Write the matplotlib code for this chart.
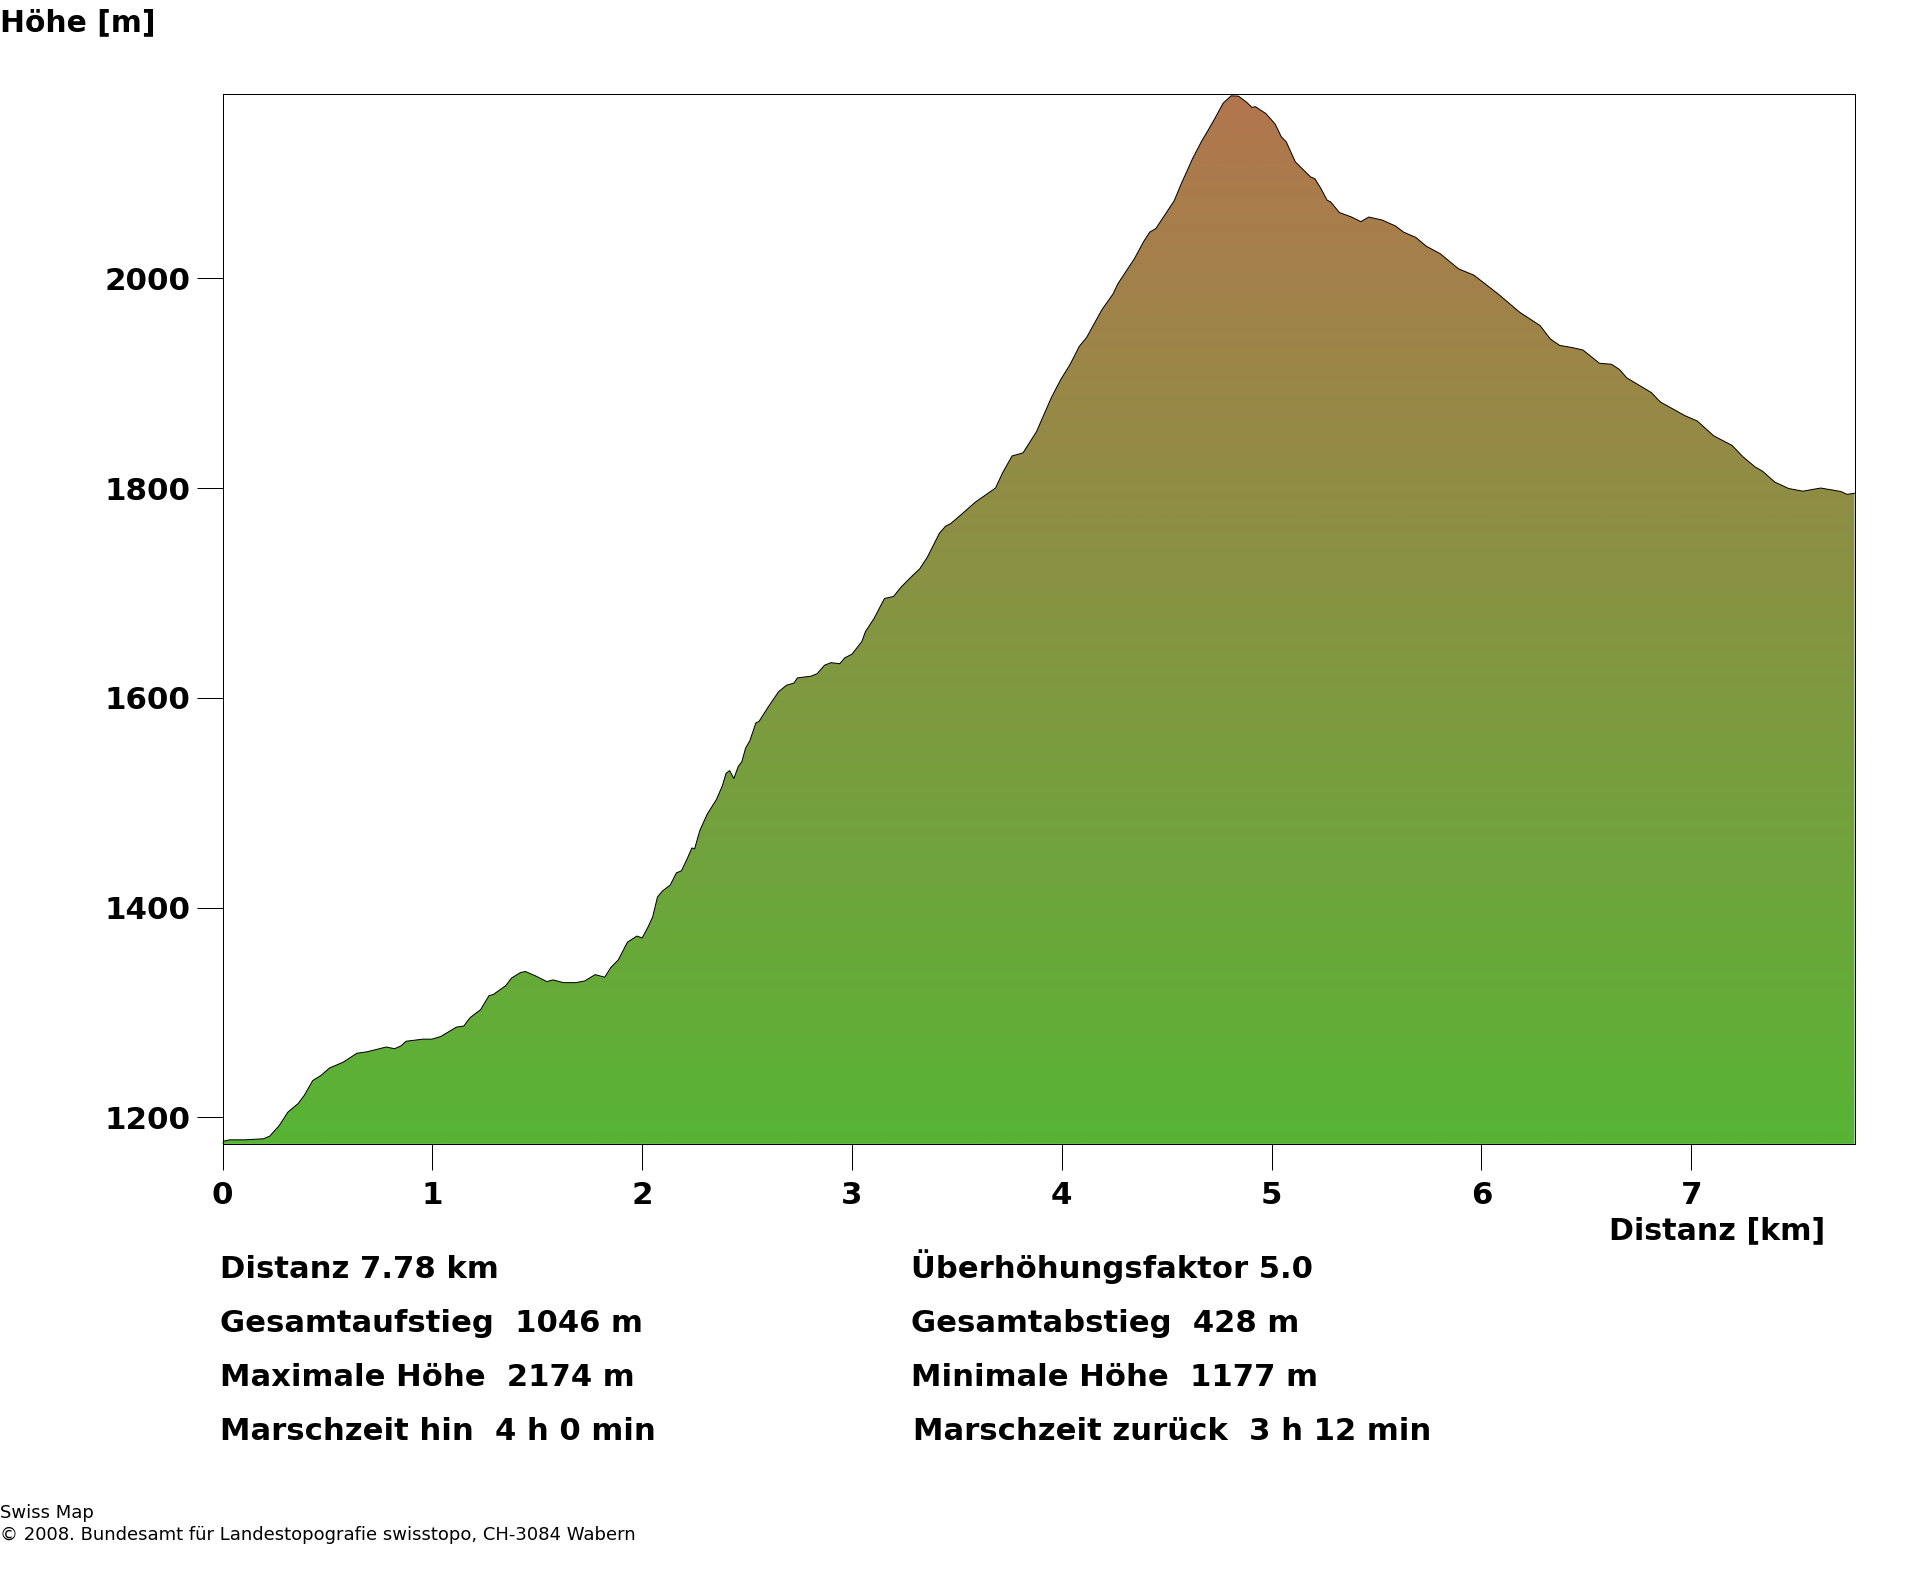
#!/usr/bin/env python3
"""Hoehenprofil: elevation along the route, filled with a green-to-brown ramp."""

import matplotlib

matplotlib.use("Agg")
import matplotlib.pyplot as plt
import numpy as np
from matplotlib.colors import LinearSegmentedColormap
from matplotlib.transforms import Bbox, TransformedBbox

WIDTH, HEIGHT = 1920, 1572

# (distance km, elevation m)
PROFILE = [
    (0.0, 1177), (0.035, 1178.5), (0.108, 1178.5), (0.195, 1179.5), (0.225, 1182), (0.27, 1192),
    (0.312, 1205), (0.36, 1213), (0.39, 1221), (0.43, 1235), (0.47, 1240), (0.51, 1247),
    (0.575, 1252.5), (0.64, 1261), (0.69, 1262.5), (0.78, 1267), (0.82, 1265.4), (0.85, 1268),
    (0.875, 1272.5), (0.955, 1274.5), (0.998, 1274.5), (1.04, 1277), (1.115, 1286), (1.15, 1287),
    (1.18, 1295), (1.23, 1302.6), (1.27, 1316), (1.29, 1317), (1.35, 1325.5), (1.377, 1332.7),
    (1.42, 1338), (1.444, 1339), (1.494, 1334.6), (1.546, 1329.4), (1.575, 1331), (1.625, 1328.4),
    (1.684, 1328.4), (1.726, 1330), (1.776, 1336), (1.822, 1333.6), (1.85, 1342.7), (1.886, 1350),
    (1.93, 1367), (1.975, 1372.8), (2.0, 1371), (2.027, 1381), (2.05, 1391), (2.073, 1410),
    (2.097, 1415.8), (2.134, 1421.5), (2.163, 1433), (2.187, 1435), (2.213, 1445.8), (2.237, 1456.8),
    (2.25, 1456), (2.275, 1473.5), (2.31, 1489), (2.354, 1503), (2.382, 1516), (2.40, 1528),
    (2.417, 1530.6), (2.437, 1523), (2.458, 1534.5), (2.475, 1539), (2.493, 1552), (2.513, 1559),
    (2.542, 1576), (2.557, 1577.5), (2.60, 1591), (2.65, 1605.7), (2.688, 1612), (2.723, 1614),
    (2.74, 1619), (2.805, 1620.6), (2.834, 1623), (2.869, 1631), (2.90, 1633.5), (2.942, 1632.5),
    (2.965, 1638), (3.0, 1641.6), (3.047, 1653.6), (3.064, 1663), (3.105, 1675.6), (3.155, 1694.7),
    (3.198, 1696.6), (3.236, 1706), (3.286, 1716), (3.323, 1723), (3.359, 1734), (3.417, 1757),
    (3.446, 1763.6), (3.47, 1766), (3.515, 1773.7), (3.588, 1786.6), (3.684, 1800), (3.719, 1815),
    (3.763, 1830.6), (3.815, 1833.5), (3.879, 1853.6), (3.952, 1887), (3.996, 1903.8), (4.04, 1918),
    (4.083, 1935), (4.118, 1943.5), (4.191, 1970), (4.244, 1985), (4.267, 1994.7), (4.346, 2018.7),
    (4.39, 2035), (4.419, 2044), (4.448, 2047.4), (4.535, 2073.7), (4.57, 2090.4), (4.623, 2114),
    (4.667, 2131), (4.696, 2140.7), (4.73, 2152.6), (4.769, 2167), (4.807, 2174), (4.842, 2173.7),
    (4.88, 2168), (4.906, 2163), (4.923, 2163.6), (4.973, 2157), (5.017, 2147), (5.046, 2135),
    (5.07, 2130), (5.113, 2111), (5.133, 2107), (5.186, 2096.6), (5.206, 2095), (5.235, 2085.6),
    (5.264, 2074.6), (5.282, 2072.7), (5.323, 2062.7), (5.381, 2058.4), (5.425, 2054), (5.463, 2058.4),
    (5.527, 2055.5), (5.591, 2049.8), (5.629, 2044), (5.687, 2039), (5.737, 2030.6), (5.804, 2023.4),
    (5.891, 2009), (5.964, 2003), (6.08, 1985), (6.183, 1967.5), (6.279, 1955), (6.329, 1942),
    (6.373, 1936), (6.431, 1934), (6.484, 1931.6), (6.562, 1919), (6.62, 1918), (6.658, 1913),
    (6.693, 1905), (6.81, 1891), (6.853, 1882), (6.97, 1869), (7.028, 1864), (7.107, 1849.8),
    (7.194, 1840.7), (7.247, 1829.7), (7.305, 1820), (7.34, 1816), (7.398, 1805.7), (7.465, 1799.5),
    (7.532, 1797), (7.617, 1800), (7.713, 1796.7), (7.742, 1794), (7.778, 1795),
]

X_MAX = 7.778
Y_MIN, Y_MAX = 1175.0, 2176.2
LEFT, RIGHT, TOP, BOTTOM = 222.5, 1854.5, 93.5, 1143.5

STATS = [
    (220, 1278.5, "Distanz 7.78 km"),
    (220, 1332, "Gesamtaufstieg  1046 m"),
    (220, 1386, "Maximale Höhe  2174 m"),
    (220, 1440, "Marschzeit hin  4 h 0 min"),
    (910.6, 1278.5, "Überhöhungsfaktor 5.0"),
    (910.6, 1332, "Gesamtabstieg  428 m"),
    (910.6, 1386, "Minimale Höhe  1177 m"),
    (913, 1440, "Marschzeit zurück  3 h 12 min"),
]

plt.rcParams["font.family"] = "DejaVu Sans"


def put_text(fig, x, y, text, **kwargs):
    # x, y in image pixels, y is the baseline measured from the top
    fig.text(x / WIDTH, 1 - y / HEIGHT, text, va="baseline", ha="left", **kwargs)


def main():
    km, elevation = np.array(PROFILE).T

    fig = plt.figure(figsize=(WIDTH / 100, HEIGHT / 100), dpi=100)
    ax = fig.add_axes([LEFT / WIDTH, 1 - BOTTOM / HEIGHT, (RIGHT - LEFT) / WIDTH, (BOTTOM - TOP) / HEIGHT])

    ramp = LinearSegmentedColormap.from_list("relief", ["#58b435", "#b2764e"])
    image = ax.imshow(
        np.linspace(Y_MIN - 20, Y_MAX + 20, 512).reshape(-1, 1), cmap=ramp, origin="lower", aspect="auto",
        vmin=Y_MIN, vmax=Y_MAX, extent=(-0.1, X_MAX + 0.1, Y_MIN - 20, Y_MAX + 20),
    )
    # polygon does the real clipping, the box is only widened so no pale seam shows at the spine
    area = ax.fill_between(km, elevation, Y_MIN - 0.4, facecolor="none", edgecolor="none")
    image.set_clip_path(area.get_paths()[0], transform=ax.transData)
    image.set_clip_box(TransformedBbox(Bbox([[-0.01, -0.01], [1.01, 1.01]]), ax.transAxes))
    ax.plot(km, elevation, color="black", linewidth=0.72)

    ax.set_xlim(0, X_MAX)
    ax.set_ylim(Y_MIN, Y_MAX)
    ax.set_xticks(range(8))
    ax.set_yticks([1200, 1400, 1600, 1800, 2000])
    ax.tick_params(axis="x", length=19, width=0.72, pad=8, labelsize=22.2)
    ax.tick_params(axis="y", length=19, width=0.72, pad=4, labelsize=22.2)
    for label in ax.get_xticklabels() + ax.get_yticklabels():
        label.set_fontweight("bold")
    for spine in ax.spines.values():
        spine.set_linewidth(0.72)

    put_text(fig, 0, 31, "Höhe [m]", fontsize=21.4, fontweight="bold")
    put_text(fig, 1609, 1239, "Distanz [km]", fontsize=21.7, fontweight="bold")
    for x, y, text in STATS:
        put_text(fig, x, y, text, fontsize=22.1, fontweight="bold")
    put_text(fig, 0, 1517.5, "Swiss Map", fontsize=12.95)
    put_text(fig, 0, 1540.5, "© 2008. Bundesamt für Landestopografie swisstopo, CH-3084 Wabern", fontsize=12.95)

    fig.savefig("out.png", dpi=100)


if __name__ == "__main__":
    main()
